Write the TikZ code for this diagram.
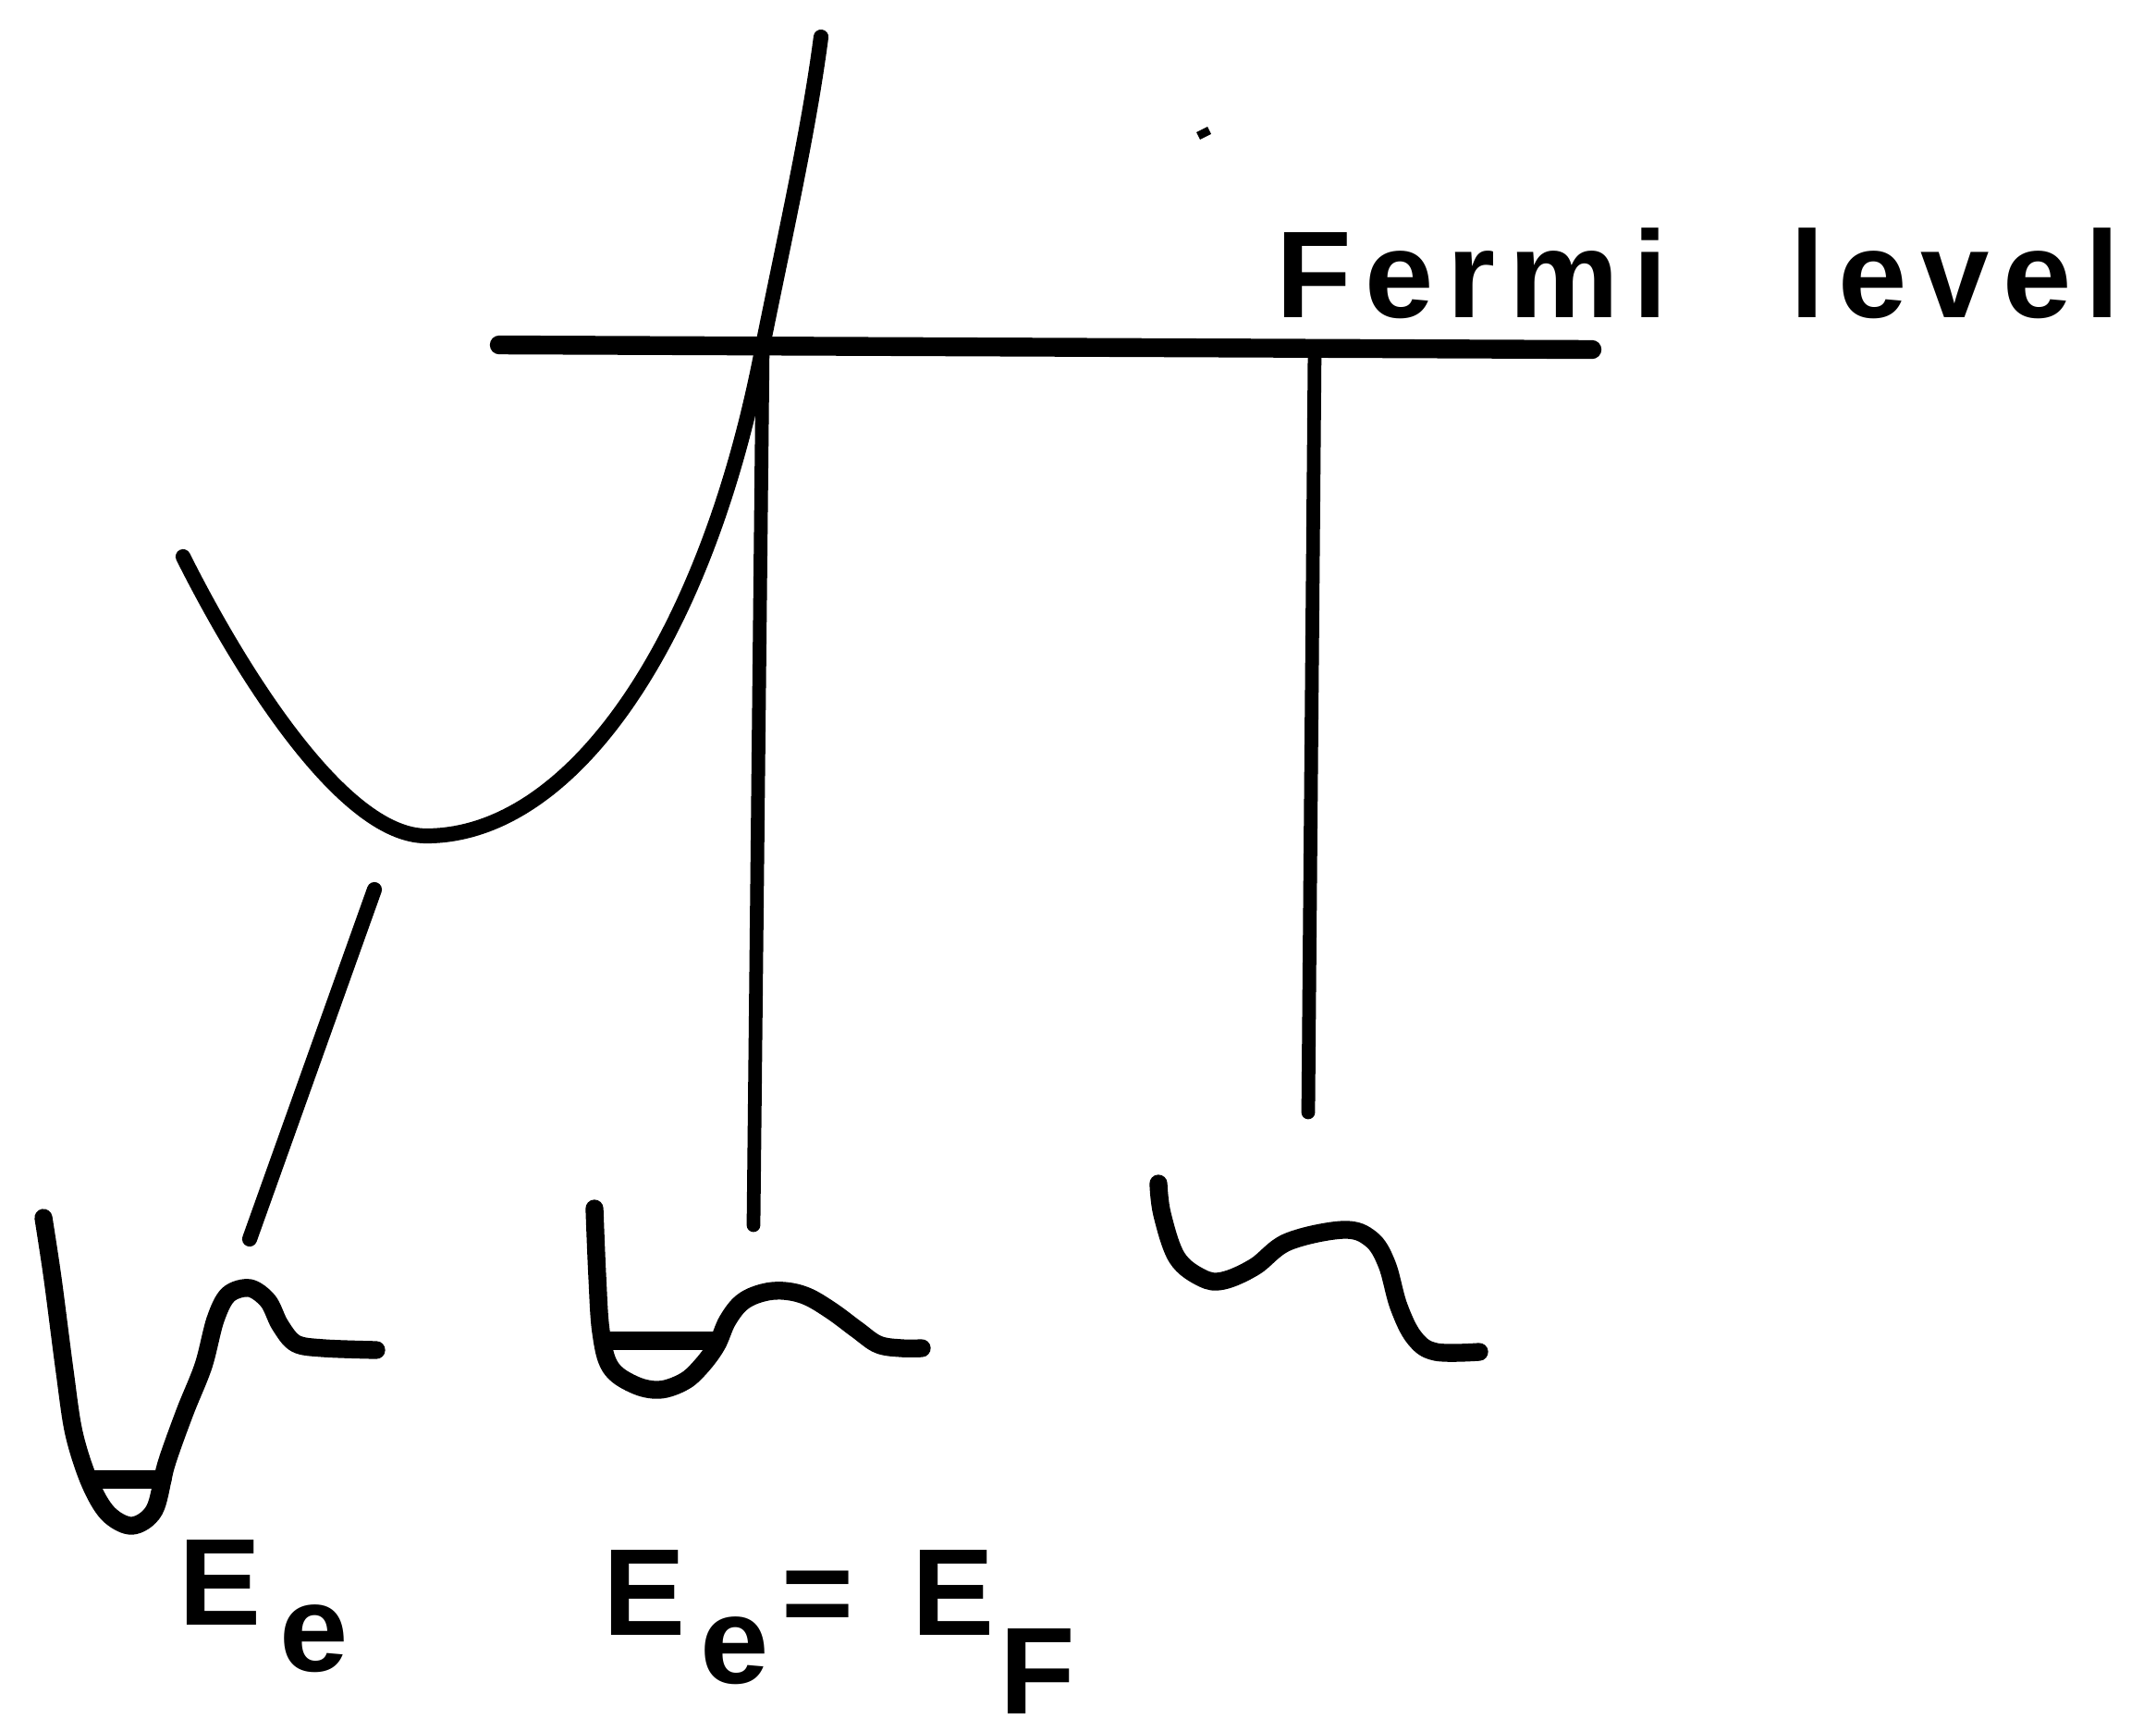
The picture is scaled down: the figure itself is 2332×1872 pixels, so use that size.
\documentclass[tikz,border=0pt]{standalone}
\usepackage{fontspec}
\setmainfont{Liberation Sans}
\newfontfamily\lblfont[LetterSpace=11]{Liberation Sans}

\begin{document}
\begin{tikzpicture}[x=0.01cm, y=-0.01cm,
    curve/.style={line width=5.5pt, line cap=round, line join=round},
    band/.style={line width=4.6pt, line cap=round, line join=round},
    stem/.style={line width=4.2pt, line cap=round},
    fermi/.style={line width=5.8pt, line cap=round},
    lbl/.style={inner sep=0pt, anchor=base west, font=\lblfont\bfseries\fontsize{38}{40}\selectfont}]
    \useasboundingbox (0,0) rectangle (2332,1872);

    \coordinate (cross) at (825,374);
    \coordinate (bottom) at (461,904);
    \coordinate (fl) at (540,373);
    \coordinate (fr) at (1722,378);
    \coordinate (drop1) at (815,1325);
    \coordinate (top2) at (1422,378);
    \coordinate (drop2) at (1415,1203);
    \coordinate (slantA) at (405,962);
    \coordinate (slantB) at (270,1340);

    % band curve
    \draw[band] (198,602) .. controls (258,722) and (370,904) .. (bottom)
        .. controls (620,904) and (765,690) .. (cross)
        .. controls (850,250) and (875,140) .. (888,40);
    \draw[fermi] (fl) -- (fr);
    \node[lbl] (fermilbl) at (1380,343) {Fermi\hspace{1em}level};

    \draw[stem] (cross) -- (drop1);
    \draw[stem] (top2) -- (drop2);
    \draw[band] (slantA) -- (slantB);
    \draw[line width=2.5pt] (1296,147) -- (1308,141);

    % wells
    \draw[curve] plot[smooth, tension=0.55] coordinates {(47,1317) (57,1383) (70,1483) (80,1550) (97,1603) (117,1637) (143,1650) (167,1633) (180,1583) (200,1527) (220,1477) (233,1427) (247,1400) (270,1393) (290,1407) (303,1433) (320,1453) (350,1458) (407,1460)};
    \draw[curve] (98,1600) -- (176,1600);

    \draw[curve] plot[smooth, tension=0.6] coordinates {(643,1307) (646,1380) (650,1440) (660,1478) (685,1497) (713,1503) (740,1494) (758,1478) (775,1455) (787,1428) (803,1408) (825,1398) (848,1396) (873,1402) (900,1418) (927,1438) (950,1454) (975,1458) (997,1458)};
    \draw[curve] (655,1450) -- (773,1450);

    \draw[curve] plot[smooth, tension=0.6] coordinates {(1253,1280) (1257,1313) (1273,1360) (1300,1382) (1323,1385) (1357,1370) (1393,1343) (1453,1330) (1483,1340) (1500,1367) (1513,1413) (1530,1447) (1553,1462) (1600,1462)};

    \node[lbl] (lbldeep) at (193,1757) {E\hspace{0.15em}\raisebox{-0.38em}{e}};
    \node[lbl] (lbleq) at (652,1768) {E\hspace{0.12em}\raisebox{-0.39em}{e}\hspace{0.1em}=\hspace{0.08em} E\hspace{0.05em}\raisebox{-0.64em}{F}};
\end{tikzpicture}
\end{document}
